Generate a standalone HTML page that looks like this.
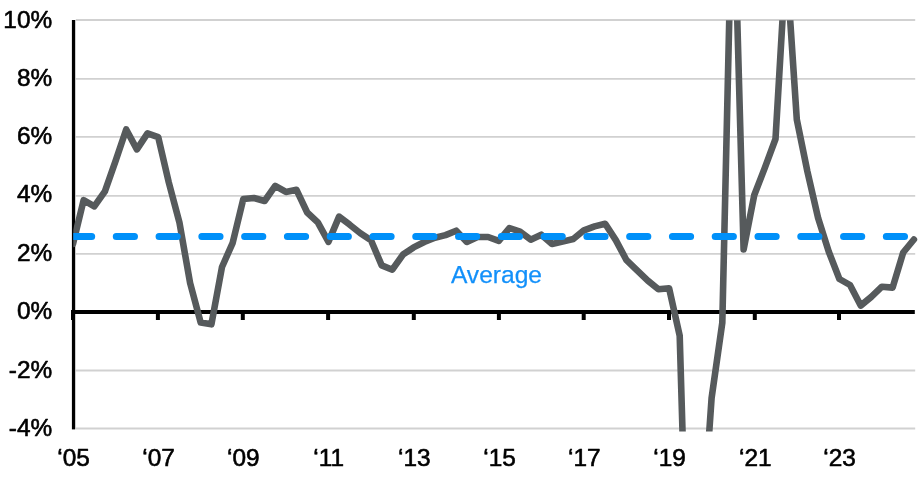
<!DOCTYPE html>
<html lang="en"><head><meta charset="utf-8"><title>Chart</title>
<style>
html,body{margin:0;padding:0;background:#fff;}
body{width:923px;height:481px;overflow:hidden;}
svg{display:block;}
text{font-family:"Liberation Sans",Arial,sans-serif;font-size:24.4px;fill:#000;stroke:#000;stroke-width:0.6px;stroke-linejoin:round;}
</style></head><body>
<svg width="923" height="481" viewBox="0 0 923 481">
<defs><clipPath id="plot"><rect x="73.3" y="20.2" width="850" height="411.4"/></clipPath></defs>
<rect width="923" height="481" fill="#fff"/>
<g stroke="#d1d1d1" stroke-width="1.8" fill="none">
<line x1="75.8" y1="20.0" x2="915.2" y2="20.0"/>
<line x1="75.8" y1="78.9" x2="915.2" y2="78.9"/>
<line x1="75.8" y1="136.8" x2="915.2" y2="136.8"/>
<line x1="75.8" y1="195.8" x2="915.2" y2="195.8"/>
<line x1="75.8" y1="253.9" x2="915.2" y2="253.9"/>
<line x1="75.8" y1="370.5" x2="915.2" y2="370.5"/>
<line x1="75.8" y1="428.5" x2="915.2" y2="428.5"/>
</g>
<rect x="71.9" y="20" width="3.3" height="409.4" fill="#000"/>
<rect x="71" y="310" width="843.8" height="4" fill="#000"/>
<rect x="71.0" y="312" width="4" height="8" fill="#000"/>
<rect x="155.9" y="312" width="4" height="8" fill="#000"/>
<rect x="240.8" y="312" width="4" height="8" fill="#000"/>
<rect x="326.1" y="312" width="4" height="8" fill="#000"/>
<rect x="411.8" y="312" width="4" height="8" fill="#000"/>
<rect x="496.9" y="312" width="4" height="8" fill="#000"/>
<rect x="581.7" y="312" width="4" height="8" fill="#000"/>
<rect x="667.0" y="312" width="4" height="8" fill="#000"/>
<rect x="752.8" y="312" width="4" height="8" fill="#000"/>
<rect x="837.0" y="312" width="4" height="8" fill="#000"/>
<g clip-path="url(#plot)"><polyline points="73.0,244.0 83.6,200.2 94.3,206.4 104.9,191.3 115.6,160.9 126.2,129.5 136.9,149.4 147.5,133.4 158.2,137.1 168.8,182.5 179.4,222.3 190.1,283.0 200.7,322.6 211.4,324.3 222.0,267.0 232.7,242.8 243.3,199.0 253.9,198.0 264.6,201.0 275.2,185.9 285.9,191.9 296.5,189.8 307.2,212.5 317.8,222.3 328.5,241.8 339.1,216.6 349.7,224.7 360.4,233.3 371.0,240.3 381.7,265.4 392.3,269.7 403.0,254.6 413.6,247.4 424.3,242.0 434.9,237.7 445.5,235.1 456.2,230.7 466.8,242.0 477.5,237.0 488.1,237.0 498.8,240.9 509.4,228.0 520.0,231.6 530.7,239.7 541.3,234.7 552.0,244.0 562.6,241.6 573.3,239.0 583.9,230.3 594.6,226.4 605.2,223.8 615.8,240.1 626.5,260.2 637.1,270.4 647.8,280.6 658.4,289.3 669.1,288.3 679.7,335.8 690.4,700.0 701.0,551.0 711.6,398.0 722.3,322.8 732.9,-140.0 743.6,249.5 754.2,195.3 764.9,167.6 775.5,139.0 786.1,-41.5 796.8,119.5 807.4,171.5 818.1,218.0 828.7,251.5 839.4,279.0 850.0,285.0 860.7,305.6 871.3,296.9 881.9,286.7 892.6,287.6 903.2,252.5 913.9,239.5" fill="none" stroke="#565a5c" stroke-width="6.6" stroke-linejoin="round" stroke-linecap="round"/>
<line x1="73.5" y1="236.5" x2="915" y2="236.5" stroke="#0090f9" stroke-width="7" stroke-linecap="round" stroke-dasharray="18.2 24.58"/></g>
<text x="52.2" y="27.6" text-anchor="end">10%</text>
<text x="52.2" y="86.4" text-anchor="end">8%</text>
<text x="52.2" y="144.4" text-anchor="end">6%</text>
<text x="52.2" y="202.4" text-anchor="end">4%</text>
<text x="52.2" y="261.3" text-anchor="end">2%</text>
<text x="52.2" y="319.4" text-anchor="end">0%</text>
<text x="52.2" y="378.3" text-anchor="end">-2%</text>
<text x="52.2" y="436.3" text-anchor="end">-4%</text>
<text x="73.6" y="466.3" text-anchor="middle">‘05</text>
<text x="158.5" y="466.3" text-anchor="middle">‘07</text>
<text x="243.4" y="466.3" text-anchor="middle">‘09</text>
<text x="328.7" y="466.3" text-anchor="middle">‘11</text>
<text x="414.4" y="466.3" text-anchor="middle">‘13</text>
<text x="499.5" y="466.3" text-anchor="middle">‘15</text>
<text x="584.3" y="466.3" text-anchor="middle">‘17</text>
<text x="669.6" y="466.3" text-anchor="middle">‘19</text>
<text x="755.4" y="466.3" text-anchor="middle">‘21</text>
<text x="839.6" y="466.3" text-anchor="middle">‘23</text>
<text x="450.9" y="282.5" style="font-size:24.6px;fill:#1290fa;stroke:#1290fa;stroke-width:0.25px">Average</text>
</svg></body></html>
